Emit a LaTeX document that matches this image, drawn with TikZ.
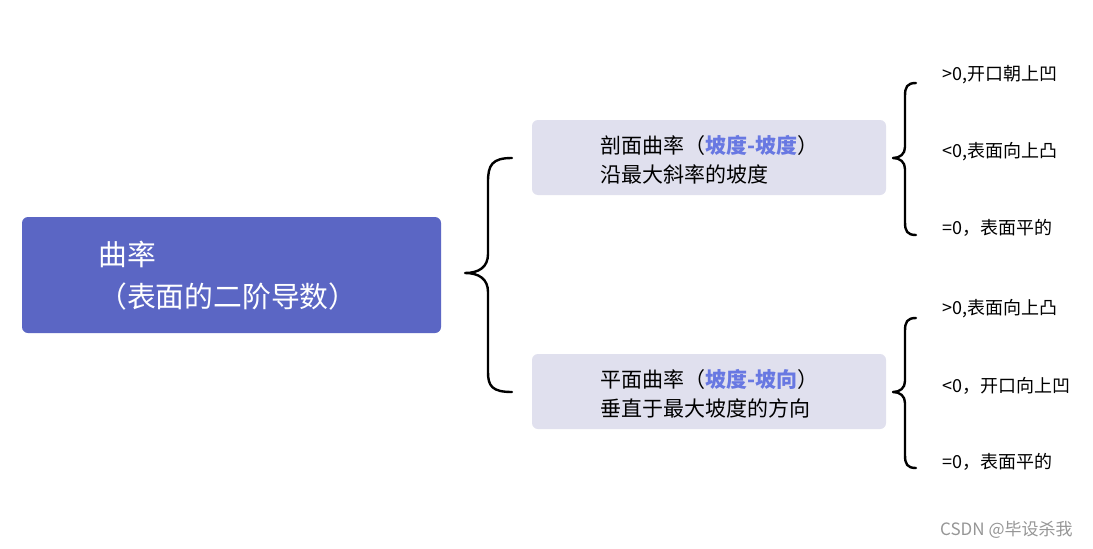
\documentclass[tikz,border=0pt]{standalone}
\usepackage{fontspec}
\setmainfont{Noto Sans CJK SC}
\definecolor{mainblue}{RGB}{91,102,196}
\definecolor{lightbox}{RGB}{224,224,238}
\definecolor{hlblue}{RGB}{104,120,226}
\definecolor{wmgray}{RGB}{150,150,150}
\tikzset{
  mainbox/.style={fill=mainblue, rounded corners=6pt, minimum width=419pt, minimum height=116pt, inner sep=0pt},
  subbox/.style={fill=lightbox, rounded corners=6pt, minimum width=354pt, minimum height=75pt, inner sep=0pt},
  bigtxt/.style={anchor=west, align=left, text=white, inner sep=0pt, font=\fontsize{28.8}{42}\selectfont},
  midtxt/.style={anchor=west, align=left, text=black, inner sep=0pt, font=\fontsize{21}{29}\selectfont},
  leaftxt/.style={anchor=west, text=black, inner sep=0pt, font=\fontsize{18}{20}\selectfont},
  bracestyle/.style={draw=black, line width=2.4pt, line cap=round, line join=round},
}
\newcommand{\hl}[1]{\textcolor{hlblue}{\bfseries #1}}
\begin{document}
\begin{tikzpicture}[x=1pt,y=-1pt]
\useasboundingbox (0,0) rectangle (1093,549);
\fill[white] (0,0) rectangle (1093,549);

% boxes
\node[mainbox] (root) at (231.5,275) {};
\node[bigtxt] (roottxt) at (98,276) {曲率\\（表面的二阶导数）};

\node[subbox] (prof) at (709,157.5) {};
\node[midtxt] (proftxt) at (600,160) {剖面曲率（\hl{坡度-坡度}）\\沿最大斜率的坡度};

\node[subbox] (plan) at (709,391.5) {};
\node[midtxt] (plantxt) at (600,394) {平面曲率（\hl{坡度-坡向}）\\垂直于最大坡度的方向};

% big brace
\coordinate (bt) at (512,158);
\coordinate (bm) at (465,273);
\coordinate (bb) at (512,392);
\draw[bracestyle] (bt) .. controls (492,158) and (488,165) .. (488,182) -- (488,254)
  .. controls (488,267) and (479,273) .. (bm)
  .. controls (479,273) and (488,279) .. (488,292) -- (488,372)
  .. controls (488,386) and (492,392) .. (bb);

% small brace top
\coordinate (t1) at (916,83);
\coordinate (tm) at (893,158);
\coordinate (t2) at (916,235);
\draw[bracestyle] (t1) .. controls (907,83) and (905,87) .. (905,96) -- (905,147)
  .. controls (905,154) and (900,158) .. (tm)
  .. controls (900,158) and (905,162) .. (905,169) -- (905,222)
  .. controls (905,231) and (907,235) .. (t2);

% small brace bottom
\coordinate (u1) at (916,318);
\coordinate (um) at (893,392);
\coordinate (u2) at (916,468);
\draw[bracestyle] (u1) .. controls (907,318) and (905,322) .. (905,331) -- (905,381)
  .. controls (905,388) and (900,392) .. (um)
  .. controls (900,392) and (905,396) .. (905,403) -- (905,455)
  .. controls (905,464) and (907,468) .. (u2);

% leaf texts
\node[leaftxt] (a1) at (942,75) {>0,开口朝上凹};
\node[leaftxt] (a2) at (942,152) {<0,表面向上凸};
\node[leaftxt] (a3) at (942,228) {=0，表面平的};
\node[leaftxt] (b1) at (942,309) {>0,表面向上凸};
\node[leaftxt] (b2) at (942,386) {<0，开口向上凹};
\node[leaftxt] (b3) at (942,462) {=0，表面平的};

% watermark
\node[anchor=west, inner sep=0pt, text=wmgray, font=\fontsize{17}{20}\selectfont] (wm) at (940,530) {CSDN @毕设杀我};
\end{tikzpicture}
\end{document}
